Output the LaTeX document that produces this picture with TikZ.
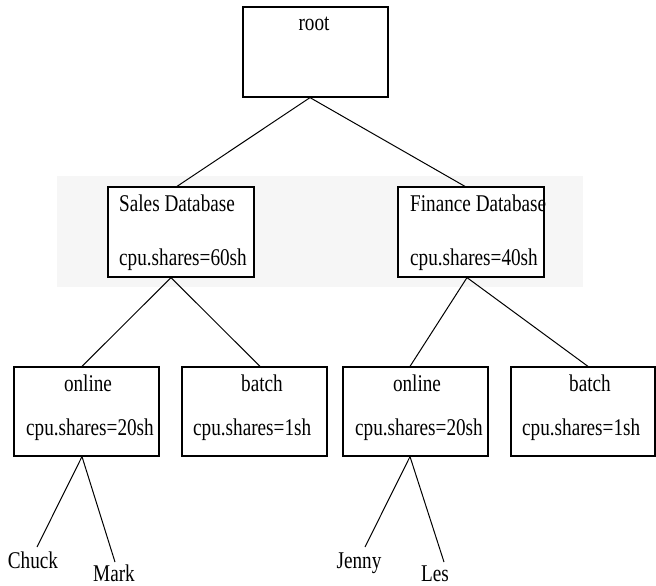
\documentclass[tikz,border=0pt]{standalone}
\usepackage{fontspec}
\setmainfont{Liberation Serif}[FakeStretch=0.8]
\definecolor{bandgray}{HTML}{F6F6F6}
\tikzset{
  box/.style={draw=black, line width=1.2pt, fill=white, rectangle, inner sep=0pt},
  lbl/.style={inner sep=0pt, font=\fontsize{24}{28}\selectfont},
  edge/.style={draw=black, line width=1pt},
}
\begin{document}
\begin{tikzpicture}[x=1pt, y=-1pt]
  \useasboundingbox (0,0) rectangle (656,586);
  % light band behind the database level
  \fill[bandgray] (57,176) rectangle (583,287);

  % boxes
  \node[box, minimum width=145pt, minimum height=90pt] (root)    at (315.5,52) {};
  \node[box, minimum width=146pt, minimum height=90pt] (sales)   at (181,232) {};
  \node[box, minimum width=146pt, minimum height=90pt] (finance) at (471,232) {};
  \node[box, minimum width=145pt, minimum height=89pt] (online1) at (86.5,411.5) {};
  \node[box, minimum width=145pt, minimum height=89pt] (batch1)  at (254.5,411.5) {};
  \node[box, minimum width=145pt, minimum height=89pt] (online2) at (415.5,411.5) {};
  \node[box, minimum width=144pt, minimum height=89pt] (batch2)  at (583,411.5) {};

  % box labels
  \node[lbl, anchor=base] (rootT) at (314,31) {root};
  \node[lbl, anchor=base west] (salesT)  at (119,211) {Sales Database};
  \node[lbl, anchor=base west] (salesS)  at (119,265) {cpu.shares=60sh};
  \node[lbl, anchor=base west] (finT)    at (410,211) {Finance Database};
  \node[lbl, anchor=base west] (finS)    at (410,265) {cpu.shares=40sh};
  \node[lbl, anchor=base] (on1T) at (88,391) {online};
  \node[lbl, anchor=base west] (on1S) at (26,435) {cpu.shares=20sh};
  \node[lbl, anchor=base] (ba1T) at (262,391) {batch};
  \node[lbl, anchor=base west] (ba1S) at (193,435) {cpu.shares=1sh};
  \node[lbl, anchor=base] (on2T) at (417,391) {online};
  \node[lbl, anchor=base west] (on2S) at (355,435) {cpu.shares=20sh};
  \node[lbl, anchor=base] (ba2T) at (590,391) {batch};
  \node[lbl, anchor=base west] (ba2S) at (522,435) {cpu.shares=1sh};

  % leaf users
  \node[lbl, anchor=base] (chuck) at (33,568) {Chuck};
  \node[lbl, anchor=base] (mark)  at (114,581) {Mark};
  \node[lbl, anchor=base] (jenny) at (359,568) {Jenny};
  \node[lbl, anchor=base] (les)   at (435,581) {Les};
  \coordinate (chuckEnd) at (37,547);
  \coordinate (markEnd)  at (115,562);
  \coordinate (jennyEnd) at (365,547);
  \coordinate (lesEnd)   at (444,562);

  % tree connectors
  \draw[edge] ([xshift=-5.5pt]root.south) -- ([xshift=-4pt]sales.north);
  \draw[edge] ([xshift=-5.5pt]root.south) -- ([xshift=-6pt]finance.north);
  \draw[edge] ([xshift=-10pt]sales.south) -- ([xshift=-4.5pt]online1.north);
  \draw[edge] ([xshift=-10pt]sales.south) -- ([xshift=5.5pt]batch1.north);
  \draw[edge] ([xshift=-4pt]finance.south) -- ([xshift=-5.5pt]online2.north);
  \draw[edge] ([xshift=-4pt]finance.south) -- ([xshift=5pt]batch2.north);
  \draw[edge] ([xshift=-4.5pt]online1.south) -- (chuckEnd);
  \draw[edge] ([xshift=-4.5pt]online1.south) -- (markEnd);
  \draw[edge] ([xshift=-5.5pt]online2.south) -- (jennyEnd);
  \draw[edge] ([xshift=-5.5pt]online2.south) -- (lesEnd);
\end{tikzpicture}
\end{document}
